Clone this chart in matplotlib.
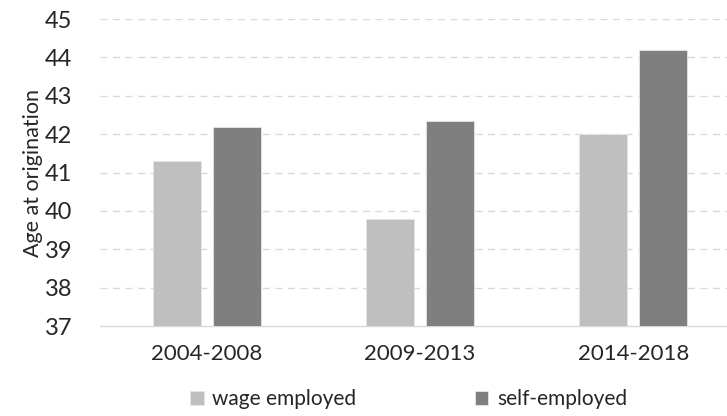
import matplotlib
matplotlib.use("Agg")
import matplotlib.pyplot as plt
import numpy as np

periods = ["2004-2008", "2009-2013", "2014-2018"]
wage_employed = [41.3, 39.8, 42.0]
self_employed = [42.2, 42.35, 44.2]
y_ticks = [37, 38, 39, 40, 41, 42, 43, 44, 45]

plt.rcParams["font.family"] = ["Lato", "DejaVu Sans"]

fig = plt.figure(figsize=(7.27, 4.16), dpi=100)
ax = fig.add_axes([0.1376, 0.2163, 0.8624, 0.7377])

x = np.arange(len(periods))
width = 0.225
offset = 0.141
base = y_ticks[0]

ax.bar(x - offset, np.array(wage_employed) - base, width, bottom=base,
       color="#BFBFBF", edgecolor="#E6E6E6", linewidth=0.6,
       label="wage employed", zorder=3)
ax.bar(x + offset, np.array(self_employed) - base, width, bottom=base,
       color="#7F7F7F", edgecolor="#E6E6E6", linewidth=0.6,
       label="self-employed", zorder=3)

ax.set_ylim(37, 45)
ax.set_xlim(-0.502, 2.44)
ax.set_yticks(y_ticks)
ax.set_xticks(x)
ax.set_xticklabels(periods)
ax.tick_params(axis="x", length=0, labelsize=16, colors="#262626", pad=13)
ax.tick_params(axis="y", length=0, labelsize=17, colors="#262626", pad=20)

for t in y_ticks[1:]:
    ax.axhline(t, color="#D9D9D9", linestyle=(0, (5, 4)), linewidth=1.0, zorder=1)

for side in ["top", "right", "left"]:
    ax.spines[side].set_visible(False)
ax.spines["bottom"].set_color("#D9D9D9")
ax.spines["bottom"].set_linewidth(1.0)

ax.set_ylabel("Age at origination", fontsize=15.5, color="#262626", labelpad=1)

fig.legend(loc="center", bbox_to_anchor=(0.562, 0.04), ncol=2, frameon=False,
           fontsize=15, handlelength=0.65, handleheight=0.65, handletextpad=0.4,
           columnspacing=5.7, labelcolor="#262626")

fig.savefig("out.png", dpi=100)
